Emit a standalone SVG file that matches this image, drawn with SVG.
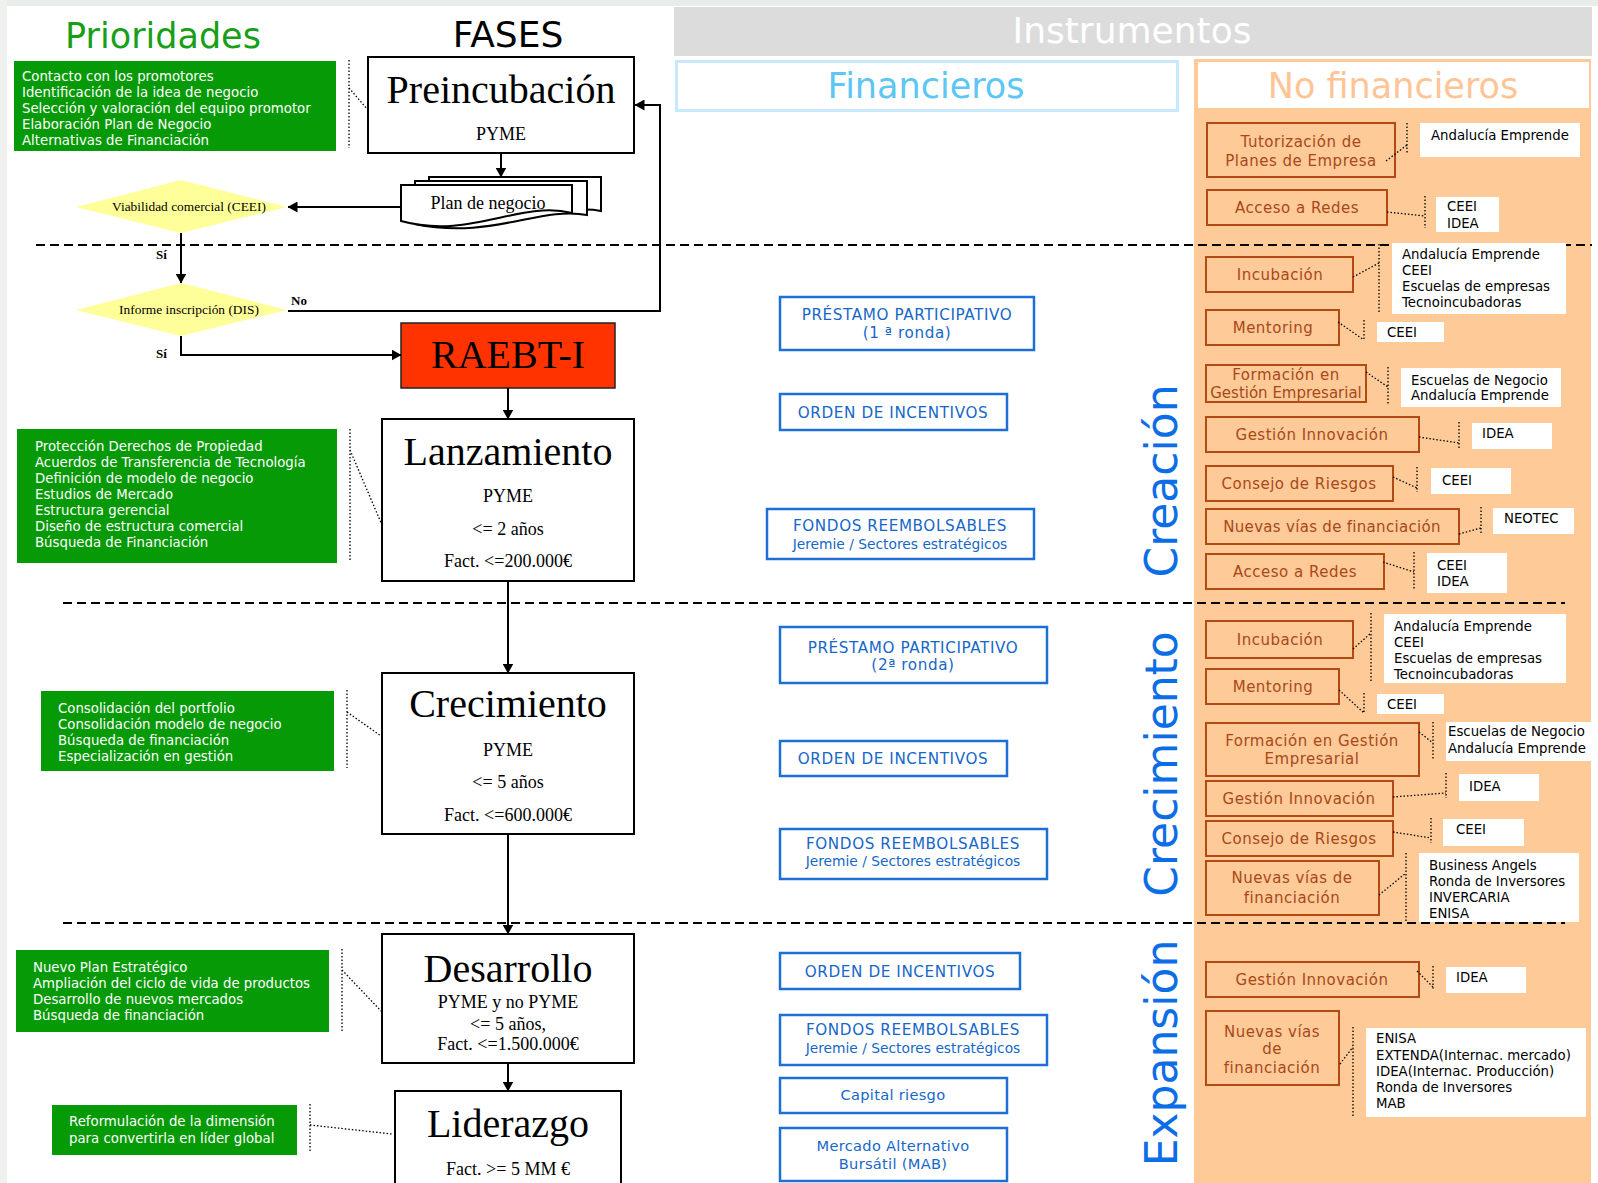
<svg xmlns="http://www.w3.org/2000/svg" width="1598" height="1183" viewBox="0 0 1598 1183">
<defs>
<marker id="ah" viewBox="0 0 10 11" refX="9.5" refY="5.5" markerWidth="10" markerHeight="11" markerUnits="userSpaceOnUse" orient="auto"><path d="M0,0 L10,5.5 L0,11 z" fill="#000"/></marker>
<style>
.ph{fill:#fff;stroke:#000;stroke-width:2}
.serif{font-family:"Liberation Serif","Times New Roman",serif;text-anchor:middle;fill:#000}
.t40{font-size:40px}
.t18{font-size:18px}
.t13{font-size:13.4px}
.lbl{font-family:"Liberation Serif",serif;font-size:13px;font-weight:bold;fill:#000}
.gb{fill:#079a07}
.gt{font-family:"DejaVu Sans",Verdana,sans-serif;font-size:13.3px;fill:#fff}
.dot{fill:none;stroke:#000;stroke-width:1.3;stroke-dasharray:1.5 2}
.dash{fill:none;stroke:#000;stroke-width:2;stroke-dasharray:9 5}
.conn{fill:none;stroke:#000;stroke-width:2}
.dia{fill:#ffff99}
.bb{fill:#fff;stroke:#1d6fd6;stroke-width:2.5}
.bt{font-family:"DejaVu Sans",Verdana,sans-serif;font-size:15.2px;fill:#1667c9;text-anchor:middle;letter-spacing:0.6px}
.bs{font-size:13.8px;letter-spacing:0}
.bm{font-size:14.6px;letter-spacing:0.3px}
.ob{fill:#fdca98;stroke:#b24a12;stroke-width:2}
.ot{font-family:"DejaVu Sans",Verdana,sans-serif;font-size:15px;fill:#a9481a;text-anchor:middle;letter-spacing:0.5px}
.wb{fill:#fff}
.wt{font-family:"DejaVu Sans",Verdana,sans-serif;font-size:13.3px;fill:#000}
.vt{font-family:"DejaVu Sans",Verdana,sans-serif;font-size:44px;fill:#0c6ee6;text-anchor:middle}
.hd{font-family:"DejaVu Sans",Verdana,sans-serif;text-anchor:middle}
</style>
</defs>

<rect width="1598" height="1183" fill="#fff"/>
<rect x="0" y="0" width="1598" height="6" fill="#e9ede9"/>
<rect x="0" y="0" width="7" height="1183" fill="#eef1ee"/>

<!-- orange column -->
<rect x="1194" y="59" width="397" height="1124" fill="#fdca98"/>

<!-- headers -->
<g id="hdr-prioridades"><text class="hd" x="163" y="48" font-size="35" fill="#17a017">Prioridades</text></g>
<g id="hdr-fases"><text class="hd" x="508" y="47" font-size="36" fill="#000">FASES</text></g>
<g id="hdr-instrumentos"><rect x="674" y="7" width="918" height="49" fill="#dcdcdc"/><text class="hd" x="1132" y="43" font-size="36" fill="#fff">Instrumentos</text></g>
<g id="hdr-financieros"><rect x="676.5" y="61.5" width="501" height="49" fill="#fff" stroke="#c8e9fb" stroke-width="3"/><text class="hd" x="926" y="98" font-size="35" fill="#5cc6f4">Financieros</text></g>
<g id="hdr-nofinancieros"><rect x="1198" y="62" width="391" height="46" fill="#fff"/><text class="hd" x="1393" y="98" font-size="35" fill="#fdc596">No financieros</text></g>

<!-- stage separators -->
<g id="separators">
<path class="dash" d="M36,245 H1592"/>
<path class="dash" d="M63,603 H1565"/>
<path class="dash" d="M63,923 H1565"/>
</g>

<!-- stage labels -->
<g id="stage-creacion"><text class="vt" transform="translate(1177,481) rotate(-90)">Creación</text></g>
<g id="stage-crecimiento"><text class="vt" transform="translate(1177,764) rotate(-90)">Crecimiento</text></g>
<g id="stage-expansion"><text class="vt" transform="translate(1177,1053) rotate(-90)">Expansión</text></g>

<!-- priorities -->
<g id="prio-1"><rect class="gb" x="14" y="61" width="322" height="90"/>
<text class="gt" x="22" y="81">Contacto con los promotores</text>
<text class="gt" x="22" y="97">Identificación de la idea de negocio</text>
<text class="gt" x="22" y="113">Selección y valoración del equipo promotor</text>
<text class="gt" x="22" y="129">Elaboración Plan de Negocio</text>
<text class="gt" x="22" y="145">Alternativas de Financiación</text></g>
<g id="prio-2"><rect class="gb" x="17" y="429" width="320" height="134"/>
<text class="gt" x="35" y="451">Protección Derechos de Propiedad</text>
<text class="gt" x="35" y="467">Acuerdos de Transferencia de Tecnología</text>
<text class="gt" x="35" y="483">Definición de modelo de negocio</text>
<text class="gt" x="35" y="499">Estudios de Mercado</text>
<text class="gt" x="35" y="515">Estructura gerencial</text>
<text class="gt" x="35" y="531">Diseño de estructura comercial</text>
<text class="gt" x="35" y="547">Búsqueda de Financiación</text></g>
<g id="prio-3"><rect class="gb" x="41" y="691" width="293" height="80"/>
<text class="gt" x="58" y="713">Consolidación del portfolio</text>
<text class="gt" x="58" y="729">Consolidación modelo de negocio</text>
<text class="gt" x="58" y="745">Búsqueda de financiación</text>
<text class="gt" x="58" y="761">Especialización en gestión</text></g>
<g id="prio-4"><rect class="gb" x="16" y="950" width="313" height="82"/>
<text class="gt" x="33" y="972">Nuevo Plan Estratégico</text>
<text class="gt" x="33" y="988">Ampliación del ciclo de vida de productos</text>
<text class="gt" x="33" y="1004">Desarrollo de nuevos mercados</text>
<text class="gt" x="33" y="1020">Búsqueda de financiación</text></g>
<g id="prio-5"><rect class="gb" x="52" y="1105" width="245" height="50"/>
<text class="gt" x="69" y="1126">Reformulación de la dimensión</text>
<text class="gt" x="69" y="1143">para convertirla en líder global</text></g>

<!-- phases -->
<g id="preincubacion"><rect class="ph" x="368" y="57" width="266" height="96"/>
<text class="serif t40" x="501" y="103">Preincubación</text>
<text class="serif t18" x="501" y="140">PYME</text></g>
<g id="plan-negocio">
<path class="ph" d="M429,177 H601 V211 C555,202 505,238 429,220 Z"/>
<path class="ph" d="M415,181 H587 V215 C540,206 490,240 415,224 Z"/>
<path class="ph" d="M401,185 H572 V213 C520,200 470,240 401,221 Z"/>
<text class="serif t18" x="488" y="209">Plan de negocio</text></g>
<g id="viabilidad"><polygon class="dia" points="76,207 181,180 287,207 181,233"/>
<text class="serif t13" x="189" y="211">Viabilidad comercial (CEEI)</text></g>
<g id="informe"><polygon class="dia" points="76,310 181,283 287,310 181,336"/>
<text class="serif t13" x="189" y="314">Informe inscripción (DIS)</text></g>
<g id="raebt"><rect x="401" y="323" width="214" height="65" fill="#ff3300" stroke="#222" stroke-width="1.5"/>
<text class="serif t40" x="508" y="368">RAEBT-I</text></g>
<g id="lanzamiento"><rect class="ph" x="382" y="419" width="252" height="162"/>
<text class="serif t40" x="508" y="465">Lanzamiento</text>
<text class="serif t18" x="508" y="502">PYME</text>
<text class="serif t18" x="508" y="535">&lt;= 2 años</text>
<text class="serif t18" x="508" y="567">Fact. &lt;=200.000€</text></g>
<g id="crecimiento"><rect class="ph" x="382" y="673" width="252" height="161"/>
<text class="serif t40" x="508" y="717">Crecimiento</text>
<text class="serif t18" x="508" y="756">PYME</text>
<text class="serif t18" x="508" y="788">&lt;= 5 años</text>
<text class="serif t18" x="508" y="821">Fact. &lt;=600.000€</text></g>
<g id="desarrollo"><rect class="ph" x="382" y="934" width="252" height="129"/>
<text class="serif t40" x="508" y="982">Desarrollo</text>
<text class="serif t18" x="508" y="1008">PYME y no PYME</text>
<text class="serif t18" x="508" y="1030">&lt;= 5 años,</text>
<text class="serif t18" x="508" y="1050">Fact. &lt;=1.500.000€</text></g>
<g id="liderazgo"><rect class="ph" x="395" y="1091" width="226" height="100"/>
<text class="serif t40" x="508" y="1137">Liderazgo</text>
<text class="serif t18" x="508" y="1175">Fact. &gt;= 5 MM €</text></g>

<!-- financial instruments -->
<g id="fin-prestamo-1"><rect class="bb" x="780" y="297" width="254" height="53"/>
<text class="bt" x="907" y="320">PRÉSTAMO PARTICIPATIVO</text><text class="bt" x="907" y="338">(1 ª ronda)</text></g>
<g id="fin-orden-1"><rect class="bb" x="780" y="394" width="227" height="36"/>
<text class="bt" x="893" y="418">ORDEN DE INCENTIVOS</text></g>
<g id="fin-fondos-1"><rect class="bb" x="767" y="509" width="267" height="50"/>
<text class="bt" x="900" y="531">FONDOS REEMBOLSABLES</text><text class="bt bs" x="900" y="549">Jeremie / Sectores estratégicos</text></g>
<g id="fin-prestamo-2"><rect class="bb" x="780" y="627" width="267" height="56"/>
<text class="bt" x="913" y="653">PRÉSTAMO PARTICIPATIVO</text><text class="bt" x="913" y="670">(2ª ronda)</text></g>
<g id="fin-orden-2"><rect class="bb" x="780" y="741" width="227" height="35"/>
<text class="bt" x="893" y="764">ORDEN DE INCENTIVOS</text></g>
<g id="fin-fondos-2"><rect class="bb" x="780" y="829" width="267" height="50"/>
<text class="bt" x="913" y="849">FONDOS REEMBOLSABLES</text><text class="bt bs" x="913" y="866">Jeremie / Sectores estratégicos</text></g>
<g id="fin-orden-3"><rect class="bb" x="780" y="953" width="240" height="36"/>
<text class="bt" x="900" y="977">ORDEN DE INCENTIVOS</text></g>
<g id="fin-fondos-3"><rect class="bb" x="780" y="1015" width="267" height="50"/>
<text class="bt" x="913" y="1035">FONDOS REEMBOLSABLES</text><text class="bt bs" x="913" y="1053">Jeremie / Sectores estratégicos</text></g>
<g id="fin-capital"><rect class="bb" x="780" y="1078" width="227" height="35"/>
<text class="bt bm" x="893" y="1100">Capital riesgo</text></g>
<g id="fin-mab"><rect class="bb" x="780" y="1128" width="227" height="53"/>
<text class="bt bm" x="893" y="1151">Mercado Alternativo</text><text class="bt bm" x="893" y="1169">Bursátil (MAB)</text></g>

<!-- non-financial: creación -->
<g id="nf-tutorizacion"><rect class="ob" x="1207" y="123" width="188" height="54"/>
<text class="ot" x="1301" y="147">Tutorización de</text><text class="ot" x="1301" y="166">Planes de Empresa</text></g>
<g id="ag-tutorizacion"><rect class="wb" x="1420" y="123" width="160" height="34"/><text class="wt" x="1431" y="140">Andalucía Emprende</text></g>
<g id="nf-redes-1"><rect class="ob" x="1207" y="190" width="180" height="35"/><text class="ot" x="1297" y="213">Acceso a Redes</text></g>
<g id="ag-redes-1"><rect class="wb" x="1436" y="197" width="63" height="35"/><text class="wt" x="1447" y="211">CEEI</text><text class="wt" x="1447" y="228">IDEA</text></g>
<g id="nf-incubacion-1"><rect class="ob" x="1206" y="257" width="147" height="35"/><text class="ot" x="1280" y="280">Incubación</text></g>
<g id="ag-incubacion-1"><rect class="wb" x="1392" y="243" width="174" height="71"/>
<text class="wt" x="1402" y="259">Andalucía Emprende</text><text class="wt" x="1402" y="275">CEEI</text><text class="wt" x="1402" y="291">Escuelas de empresas</text><text class="wt" x="1402" y="307">Tecnoincubadoras</text></g>
<g id="nf-mentoring-1"><rect class="ob" x="1206" y="310" width="133" height="35"/><text class="ot" x="1273" y="333">Mentoring</text></g>
<g id="ag-mentoring-1"><rect class="wb" x="1377" y="322" width="67" height="20"/><text class="wt" x="1387" y="337">CEEI</text></g>
<g id="nf-formacion-1"><rect class="ob" x="1206" y="365" width="160" height="37"/>
<text class="ot" x="1286" y="380">Formación en</text><text class="ot" x="1286" y="398" style="letter-spacing:0">Gestión Empresarial</text></g>
<g id="ag-formacion-1"><rect class="wb" x="1401" y="368" width="160" height="39"/><text class="wt" x="1411" y="385">Escuelas de Negocio</text><text class="wt" x="1411" y="400">Andalucía Emprende</text></g>
<g id="nf-gestion-1"><rect class="ob" x="1206" y="417" width="213" height="35"/><text class="ot" x="1312" y="440">Gestión Innovación</text></g>
<g id="ag-gestion-1"><rect class="wb" x="1472" y="423" width="80" height="26"/><text class="wt" x="1482" y="438">IDEA</text></g>
<g id="nf-consejo-1"><rect class="ob" x="1206" y="466" width="187" height="35"/><text class="ot" x="1299" y="489">Consejo de Riesgos</text></g>
<g id="ag-consejo-1"><rect class="wb" x="1431" y="468" width="80" height="26"/><text class="wt" x="1442" y="485">CEEI</text></g>
<g id="nf-nuevas-1"><rect class="ob" x="1206" y="509" width="253" height="35"/><text class="ot" x="1332" y="532" style="letter-spacing:0.3px">Nuevas vías de financiación</text></g>
<g id="ag-nuevas-1"><rect class="wb" x="1493" y="508" width="81" height="26"/><text class="wt" x="1504" y="523">NEOTEC</text></g>
<g id="nf-redes-2"><rect class="ob" x="1206" y="554" width="178" height="35"/><text class="ot" x="1295" y="577">Acceso a Redes</text></g>
<g id="ag-redes-2"><rect class="wb" x="1427" y="553" width="80" height="40"/><text class="wt" x="1437" y="570">CEEI</text><text class="wt" x="1437" y="586">IDEA</text></g>

<!-- non-financial: crecimiento -->
<g id="nf-incubacion-2"><rect class="ob" x="1206" y="621" width="147" height="37"/><text class="ot" x="1280" y="645">Incubación</text></g>
<g id="ag-incubacion-2"><rect class="wb" x="1384" y="614" width="182" height="69"/>
<text class="wt" x="1394" y="631">Andalucía Emprende</text><text class="wt" x="1394" y="647">CEEI</text><text class="wt" x="1394" y="663">Escuelas de empresas</text><text class="wt" x="1394" y="679">Tecnoincubadoras</text></g>
<g id="nf-mentoring-2"><rect class="ob" x="1206" y="669" width="133" height="35"/><text class="ot" x="1273" y="692">Mentoring</text></g>
<g id="ag-mentoring-2"><rect class="wb" x="1377" y="694" width="67" height="20"/><text class="wt" x="1387" y="709">CEEI</text></g>
<g id="nf-formacion-2"><rect class="ob" x="1206" y="723" width="213" height="53"/>
<text class="ot" x="1312" y="746">Formación en Gestión</text><text class="ot" x="1312" y="764">Empresarial</text></g>
<g id="ag-formacion-2"><rect class="wb" x="1446" y="722" width="146" height="39"/><text class="wt" x="1448" y="736">Escuelas de Negocio</text><text class="wt" x="1448" y="753">Andalucía Emprende</text></g>
<g id="nf-gestion-2"><rect class="ob" x="1206" y="781" width="187" height="35"/><text class="ot" x="1299" y="804">Gestión Innovación</text></g>
<g id="ag-gestion-2"><rect class="wb" x="1459" y="774" width="80" height="27"/><text class="wt" x="1469" y="791">IDEA</text></g>
<g id="nf-consejo-2"><rect class="ob" x="1206" y="821" width="187" height="35"/><text class="ot" x="1299" y="844">Consejo de Riesgos</text></g>
<g id="ag-consejo-2"><rect class="wb" x="1443" y="819" width="81" height="27"/><text class="wt" x="1456" y="834">CEEI</text></g>
<g id="nf-nuevas-2"><rect class="ob" x="1206" y="861" width="173" height="54"/>
<text class="ot" x="1292" y="883">Nuevas vías de</text><text class="ot" x="1292" y="903">financiación</text></g>
<g id="ag-nuevas-2"><rect class="wb" x="1419" y="853" width="160" height="69"/>
<text class="wt" x="1429" y="870">Business Angels</text><text class="wt" x="1429" y="886">Ronda de Inversores</text><text class="wt" x="1429" y="902">INVERCARIA</text><text class="wt" x="1429" y="918">ENISA</text></g>

<!-- non-financial: expansión -->
<g id="nf-gestion-3"><rect class="ob" x="1206" y="962" width="213" height="35"/><text class="ot" x="1312" y="985">Gestión Innovación</text></g>
<g id="ag-gestion-3"><rect class="wb" x="1446" y="967" width="80" height="26"/><text class="wt" x="1456" y="982">IDEA</text></g>
<g id="nf-nuevas-3"><rect class="ob" x="1206" y="1011" width="133" height="74"/>
<text class="ot" x="1272" y="1037">Nuevas vías</text><text class="ot" x="1272" y="1054">de</text><text class="ot" x="1272" y="1073">financiación</text></g>
<g id="ag-nuevas-3"><rect class="wb" x="1366" y="1028" width="220" height="89"/>
<text class="wt" x="1376" y="1043">ENISA</text><text class="wt" x="1376" y="1060">EXTENDA(Internac. mercado)</text><text class="wt" x="1376" y="1076">IDEA(Internac. Producción)</text><text class="wt" x="1376" y="1092">Ronda de Inversores</text><text class="wt" x="1376" y="1108">MAB</text></g>

<!-- connectors -->
<g id="connectors">
<path class="conn" d="M501,153 V177" marker-end="url(#ah)"/>
<path class="conn" d="M401,207 H288" marker-end="url(#ah)"/>
<path class="conn" d="M181,233 V283" marker-end="url(#ah)"/>
<path class="conn" d="M181,336 V355 H401" marker-end="url(#ah)"/>
<path class="conn" d="M288,311 H660 V105 H635" marker-end="url(#ah)"/>
<path class="conn" d="M508,388 V419" marker-end="url(#ah)"/>
<path class="conn" d="M508,581 V673" marker-end="url(#ah)"/>
<path class="conn" d="M508,834 V934" marker-end="url(#ah)"/>
<path class="conn" d="M508,1063 V1091" marker-end="url(#ah)"/>
<text class="lbl" x="156" y="259">Sí</text>
<text class="lbl" x="156" y="358">Sí</text>
<text class="lbl" x="291" y="305">No</text>
<!-- priority brackets -->
<path class="dot" d="M349,60 V148 M349,88 L368,110"/>
<path class="dot" d="M350,429 V562 M350,450 L382,525"/>
<path class="dot" d="M347,690 V768 M347,712 L381,736"/>
<path class="dot" d="M342,949 V1031 M342,970 L382,1012"/>
<path class="dot" d="M310,1104 V1152 M310,1125 L392,1134"/>
<!-- agent brackets -->
<path class="dot" d="M1407,123 V153 M1386,161 L1407,145"/>
<path class="dot" d="M1425,196 V228 M1387,212 L1425,216"/>
<path class="dot" d="M1379,244 V314 M1353,277 L1379,263"/>
<path class="dot" d="M1364,320 V340 M1338,322 L1364,340"/>
<path class="dot" d="M1388,367 V405 M1366,372 L1388,387"/>
<path class="dot" d="M1459,422 V448 M1419,437 L1459,443"/>
<path class="dot" d="M1417,467 V492 M1393,477 L1417,488"/>
<path class="dot" d="M1481,507 V535 M1459,534 L1481,528"/>
<path class="dot" d="M1414,552 V590 M1383,562 L1414,572"/>
<path class="dot" d="M1371,613 V682 M1353,649 L1371,633"/>
<path class="dot" d="M1364,693 V714 M1339,690 L1364,713"/>
<path class="dot" d="M1433,722 V760 M1419,732 L1433,743"/>
<path class="dot" d="M1446,773 V798 M1393,797 L1446,793"/>
<path class="dot" d="M1431,818 V843 M1393,832 L1431,838"/>
<path class="dot" d="M1406,853 V923 M1379,895 L1406,873"/>
<path class="dot" d="M1433,966 V990 M1417,971 L1433,987"/>
<path class="dot" d="M1353,1027 V1116 M1340,1064 L1353,1047"/>
</g>
</svg>
